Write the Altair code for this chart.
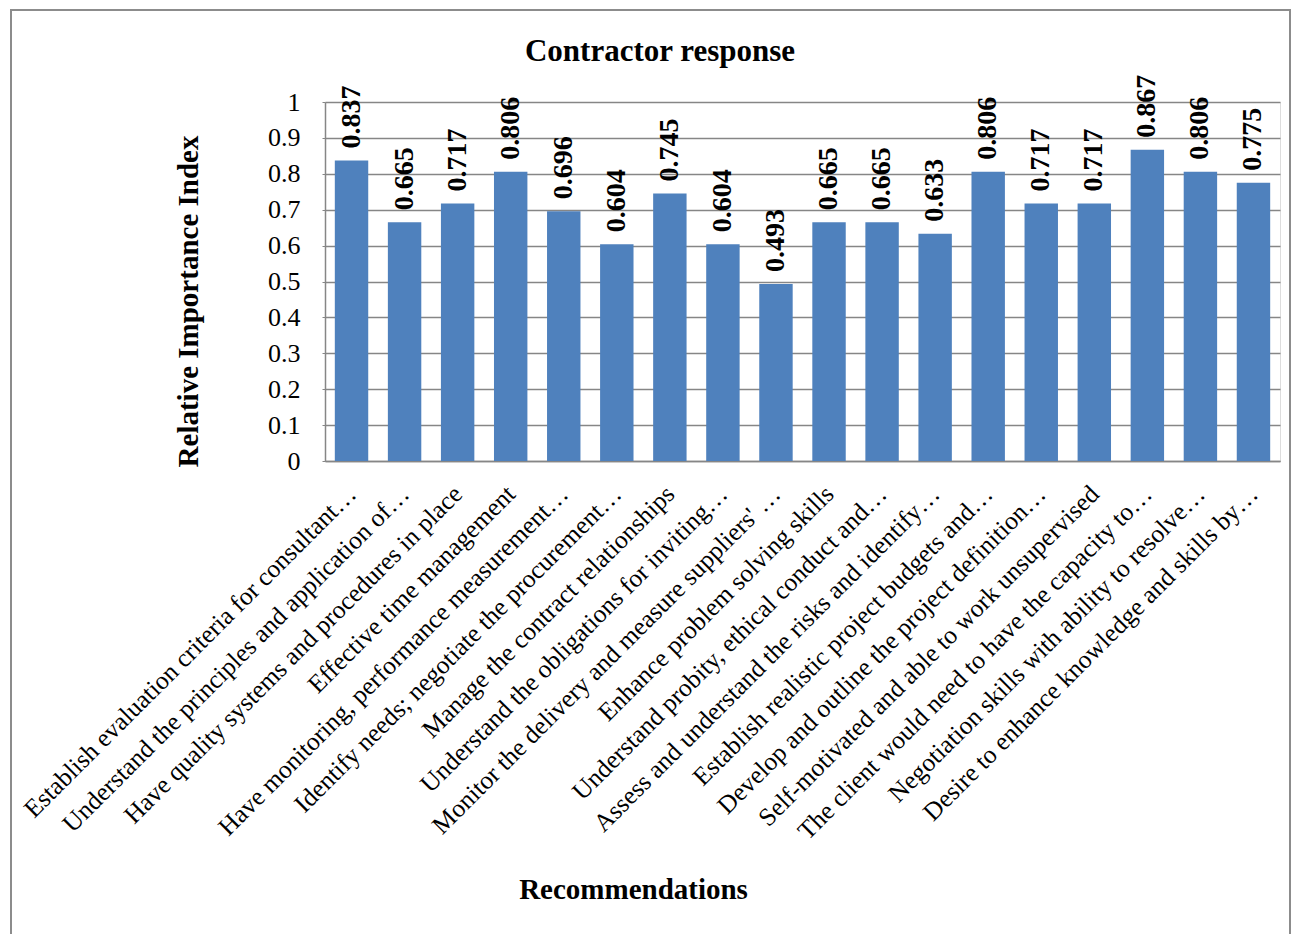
import altair as alt
import pandas as pd

# Recommendation statements (as abbreviated on the axis) and their RII scores
recommendations = [
    "Establish evaluation criteria for consultant…",
    "Understand the principles and application of…",
    "Have quality systems and procedures in place",
    "Effective time management",
    "Have monitoring, performance measurement…",
    "Identify needs; negotiate the procurement…",
    "Manage the contract relationships",
    "Understand the obligations for inviting…",
    "Monitor the delivery and measure suppliers' …",
    "Enhance problem solving skills",
    "Understand probity, ethical conduct and…",
    "Assess and understand the risks and identify…",
    "Establish realistic project budgets and…",
    "Develop and outline the project definition…",
    "Self-motivated and able to work unsupervised",
    "The client would need to have the capacity to…",
    "Negotiation skills with ability to resolve…",
    "Desire to enhance knowledge and skills by…",
]
rii = [0.837, 0.665, 0.717, 0.806, 0.696, 0.604, 0.745, 0.604, 0.493,
       0.665, 0.665, 0.633, 0.806, 0.717, 0.717, 0.867, 0.806, 0.775]
y_ticks = [0, 0.1, 0.2, 0.3, 0.4, 0.5, 0.6, 0.7, 0.8, 0.9, 1]

df = pd.DataFrame({"Recommendation": recommendations, "RII": rii})

FONT = "Liberation Serif"
GRID = "#868686"

x_enc = alt.X(
    "Recommendation:N",
    sort=None,
    scale=alt.Scale(paddingInner=0.37, paddingOuter=0.185),
    axis=alt.Axis(
        title="Recommendations",
        titleFont=FONT, titleFontSize=29, titleFontWeight="bold", titleColor="black",
        titleX=308, titleY=428, titleBaseline="middle", titleAlign="center",
        labelFont=FONT, labelFontSize=25.5, labelColor="black",
        labelAngle=-45, labelAlign="right", labelBaseline="top",
        labelPadding=20, labelOffset=-8, labelLimit=0, labelOverlap=False,
        ticks=False, domainColor=GRID, domainWidth=1.5,
    ),
)
y_enc = alt.Y(
    "RII:Q",
    scale=alt.Scale(domain=[0, 1], nice=False),
    axis=alt.Axis(
        title="Relative Importance Index",
        titleFont=FONT, titleFontSize=29, titleFontWeight="bold", titleColor="black",
        titleAngle=-90, titleX=-137, titleY=199, titleAlign="center", titleBaseline="middle",
        values=y_ticks, format="~g", labelOverlap=False,
        labelFont=FONT, labelFontSize=26, labelColor="black", labelPadding=22,
        tickSize=3, tickColor=GRID, domainColor=GRID, domainWidth=1.5,
        gridColor=GRID, gridWidth=1.5,
    ),
)

bars = alt.Chart(df).mark_bar(color="#4F81BD").encode(x=x_enc, y=y_enc)

labels = alt.Chart(df).mark_text(
    angle=270, align="left", baseline="middle", dx=12,
    font=FONT, fontSize=28, fontWeight="bold", color="black",
).encode(
    x=x_enc,
    y=y_enc,
    text=alt.Text("RII:Q", format=".3f"),
)

one = pd.DataFrame({"label": ["Contractor response"]})

frame = alt.Chart(one).mark_rect(
    fill=None, stroke="#8c8c8c", strokeWidth=2
).encode(
    x=alt.value(-314), x2=alt.value(965), y=alt.value(-92), y2=alt.value(840)
)

heading = alt.Chart(one).mark_text(
    font=FONT, fontSize=31, fontWeight="bold", color="black",
    align="center", baseline="middle",
).encode(x=alt.value(335), y=alt.value(-50), text="label:N")

chart = alt.layer(frame, bars, labels, heading).properties(
    width=955,
    height=359,
    padding={"left": 325, "top": 102, "right": 16, "bottom": 473},
    autosize=alt.AutoSizeParams(type="none"),
).configure_view(stroke=None).configure(background="white")

chart.save("out.html", embed_options={"renderer": "svg", "actions": False})
